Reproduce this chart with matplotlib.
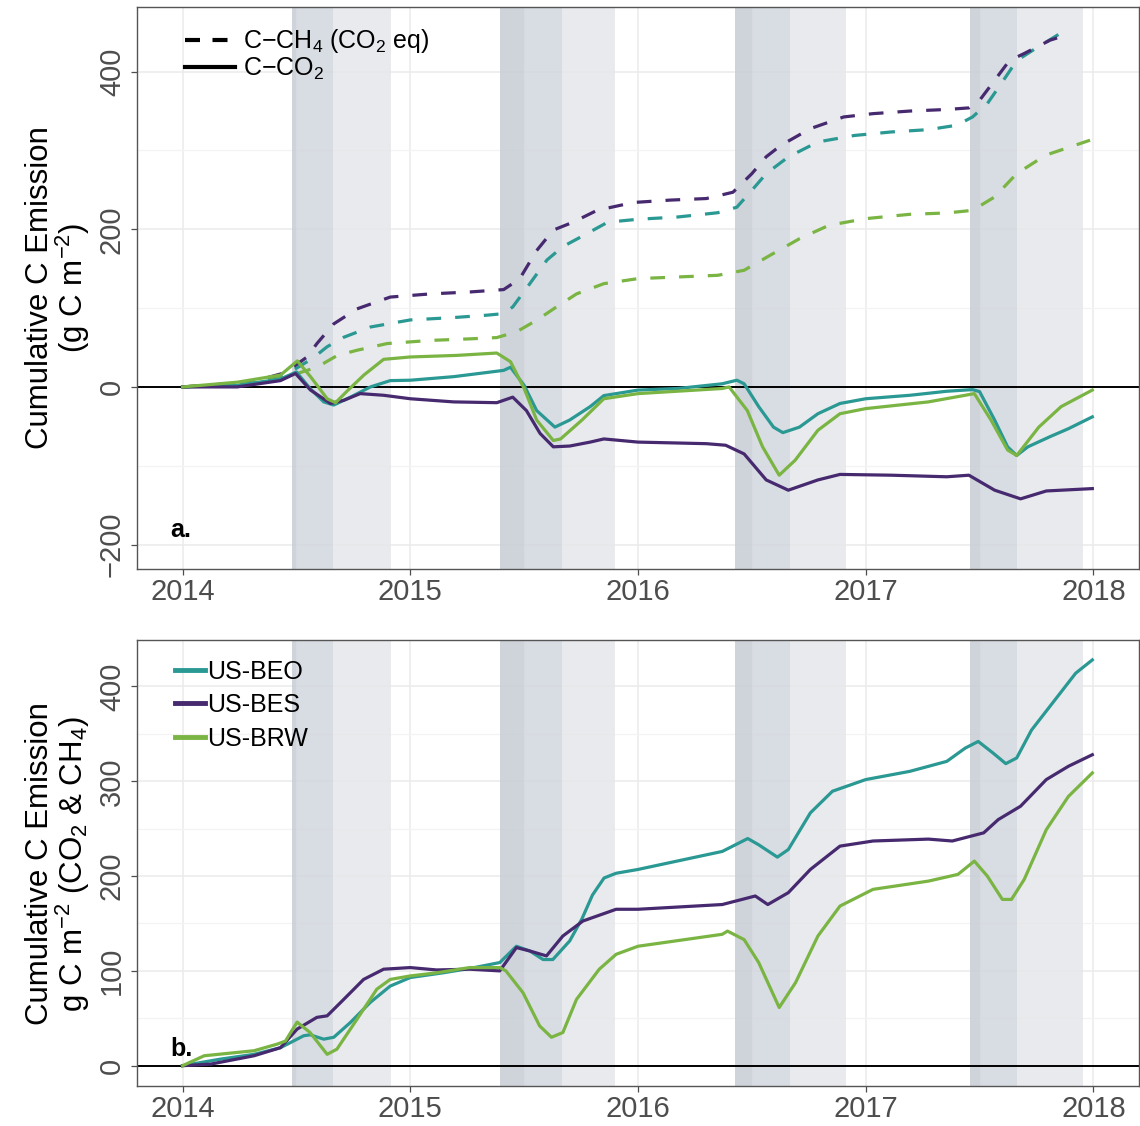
import numpy as np
import matplotlib
matplotlib.use("Agg")
import matplotlib.pyplot as plt
from matplotlib.lines import Line2D

plt.rcParams['font.family'] = ['Liberation Sans', 'DejaVu Sans']
plt.rcParams['mathtext.fontset'] = 'custom'
plt.rcParams['mathtext.rm'] = 'Liberation Sans'
plt.rcParams['mathtext.it'] = 'Liberation Sans:italic'
plt.rcParams['mathtext.bf'] = 'Liberation Sans:bold'

# ---- colours per site ----
sites = ['US-BEO', 'US-BES', 'US-BRW']
site_colors = ['#2A9893', '#46296F', '#7AB443']

# ---- shaded seasons (decimal years) ----
thaw_start = [2014.480, 2015.396, 2016.428, 2017.456]
mid_mark = [2014.500, 2015.500, 2016.500, 2017.500]
dark_end = [2014.659, 2015.666, 2016.668, 2017.666]
light_end = [2014.916, 2015.899, 2016.915, 2017.955]

# ---- panel a: cumulative C-CO2 (solid) ----
beo_co2_t = [2014.0, 2014.24, 2014.43, 2014.50, 2014.56, 2014.62, 2014.664, 2014.737, 2014.825,
             2014.912, 2015.0, 2015.19, 2015.41, 2015.44, 2015.50, 2015.555, 2015.635, 2015.70,
             2015.79, 2015.85, 2016.0, 2016.175, 2016.37, 2016.434, 2016.466, 2016.53, 2016.595,
             2016.636, 2016.709, 2016.79, 2016.887, 2017.0, 2017.194, 2017.356, 2017.469, 2017.50,
             2017.566, 2017.623, 2017.663, 2017.712, 2017.81, 2017.89, 2017.995]
beo_co2 = [0, 2, 10, 19, -2, -19, -23, -13, 0,
           8, 8.5, 13, 21, 25, 2, -30, -51, -42,
           -25, -11, -4, -2, 4, 8.5, 4, -25, -51,
           -58, -51, -34, -21, -15, -10.6, -5.5, -3.4, -6,
           -42, -76, -87, -76, -63, -53, -38]

bes_co2_t = [2014.0, 2014.24, 2014.43, 2014.496, 2014.562, 2014.65, 2014.708, 2014.78, 2014.883,
             2015.0, 2015.19, 2015.38, 2015.45, 2015.51, 2015.57, 2015.628, 2015.70, 2015.79,
             2015.85, 2016.0, 2016.30, 2016.385, 2016.466, 2016.563, 2016.66, 2016.79, 2016.887,
             2017.113, 2017.356, 2017.453, 2017.566, 2017.68, 2017.793, 2017.995]
bes_co2 = [0, 0, 8, 17, -4, -21, -17, -8.5, -10.6,
           -15, -19, -20, -13, -30, -59, -76, -75, -70,
           -66, -70, -72, -74, -85, -118, -131, -118, -111,
           -112, -114, -112, -131, -142, -132, -129]

brw_co2_t = [2014.0, 2014.24, 2014.43, 2014.504, 2014.562, 2014.635, 2014.672, 2014.72, 2014.796,
             2014.883, 2015.0, 2015.204, 2015.38, 2015.44, 2015.50, 2015.555, 2015.628, 2015.66,
             2015.754, 2015.85, 2016.0, 2016.37, 2016.40, 2016.48, 2016.547, 2016.62, 2016.69,
             2016.79, 2016.887, 2017.0, 2017.275, 2017.437, 2017.477, 2017.55, 2017.623, 2017.663,
             2017.76, 2017.858, 2017.995]
brw_co2 = [0, 6, 15, 33, 13, -15, -20, -6, 15,
           35, 38, 40, 43, 32, -2, -42, -68, -66,
           -42, -15, -8.5, -2, 0, -30, -76, -112, -93,
           -55, -34, -27.5, -19, -10.6, -8.5, -42, -80, -87,
           -51, -25, -4]

# ---- panel a: cumulative C-CH4 in CO2 eq (dashed) ----
beo_ch4_t = [2014.0, 2014.3, 2014.45, 2014.57, 2014.635, 2014.708, 2014.825, 2015.0, 2015.19,
             2015.336, 2015.41, 2015.45, 2015.525, 2015.60, 2015.67, 2015.76, 2015.867, 2016.0,
             2016.175, 2016.35, 2016.434, 2016.50, 2016.563, 2016.66, 2016.79, 2016.95, 2017.113,
             2017.275, 2017.40, 2017.469, 2017.534, 2017.60, 2017.663, 2017.744, 2017.84, 2017.858]
beo_ch4 = [0, 5, 15, 36, 51, 63, 76, 85, 88,
           91, 93, 101.5, 131, 161, 178, 192, 209, 212.7,
           215.6, 221, 228, 249.5, 270.6, 291.8, 310.8, 319, 323.5,
           326.4, 332, 342.5, 359.4, 387, 414, 429, 446, 449]

bes_ch4_t = [2014.0, 2014.3, 2014.45, 2014.547, 2014.59, 2014.664, 2014.766, 2014.912, 2015.088,
             2015.263, 2015.41, 2015.48, 2015.555, 2015.628, 2015.715, 2015.82, 2015.98, 2016.14,
             2016.30, 2016.417, 2016.50, 2016.563, 2016.628, 2016.757, 2016.903, 2017.032, 2017.194,
             2017.356, 2017.453, 2017.50, 2017.566, 2017.631, 2017.696, 2017.81, 2017.855]
bes_ch4 = [0, 6, 18, 38, 55, 80, 99, 114, 118,
           120.5, 123.5, 137, 173, 199, 209, 224, 234, 237,
           239, 247, 270.6, 292, 306.6, 327.7, 342.5, 346.7, 350,
           352, 354, 363.6, 389, 414, 423, 440, 444]

brw_ch4_t = [2014.0, 2014.3, 2014.45, 2014.59, 2014.68, 2014.766, 2014.898, 2015.088, 2015.263,
             2015.38, 2015.467, 2015.555, 2015.642, 2015.73, 2015.85, 2016.0, 2016.175, 2016.35,
             2016.466, 2016.58, 2016.709, 2016.838, 2017.0, 2017.194, 2017.356, 2017.469, 2017.566,
             2017.663, 2017.79, 2017.985]
brw_ch4 = [0, 5, 12, 25, 40, 46.5, 55, 59, 61,
           62.6, 70, 84.6, 101.5, 118, 131, 137.4, 139.5, 141.6,
           148, 167, 188, 205, 213.5, 219, 220.7, 224, 241,
           270.6, 294, 313]

# ---- panel b: cumulative C (CO2 & CH4), g C m-2 ----
beo_tot_t = [2014.0, 2014.168, 2014.314, 2014.43, 2014.532, 2014.56, 2014.62, 2014.664, 2014.737,
             2014.824, 2014.912, 2015.0, 2015.145, 2015.26, 2015.393, 2015.466, 2015.525, 2015.583,
             2015.626, 2015.70, 2015.754, 2015.80, 2015.851, 2015.904, 2016.0, 2016.175, 2016.37,
             2016.482, 2016.53, 2016.612, 2016.66, 2016.757, 2016.854, 2017.0, 2017.194, 2017.356,
             2017.437, 2017.494, 2017.558, 2017.615, 2017.663, 2017.728, 2017.825, 2017.922, 2017.995]
beo_tot = [0, 7, 12, 19, 31.6, 32.6, 28, 30, 45.6,
           66.7, 84, 93, 98, 102.5, 108.8, 126, 121, 112,
           112, 131.6, 155, 180, 198, 203, 207, 216, 226,
           239.6, 233, 220, 228, 266.7, 289.5, 301.8, 310.5, 321,
           335, 342, 330, 318.6, 324.6, 354, 384, 414, 428]

bes_tot_t = [2014.0, 2014.124, 2014.314, 2014.43, 2014.503, 2014.59, 2014.635, 2014.708, 2014.795,
             2014.883, 2015.0, 2015.116, 2015.26, 2015.393, 2015.466, 2015.525, 2015.598, 2015.67,
             2015.758, 2015.904, 2016.0, 2016.37, 2016.515, 2016.57, 2016.66, 2016.757, 2016.887,
             2017.032, 2017.275, 2017.38, 2017.518, 2017.582, 2017.68, 2017.793, 2017.89, 2017.995]
bes_tot = [0, 1.7, 10.5, 19, 38.6, 51, 52.6, 70, 91,
           101.8, 103.5, 101, 101.8, 100, 124.6, 121, 115.8, 136.8,
           152.6, 165, 165, 170, 179, 170, 182.5, 207, 231.6,
           237, 239, 237, 245.6, 259.6, 273.7, 301.8, 315.8, 328]

brw_tot_t = [2014.0, 2014.095, 2014.314, 2014.416, 2014.452, 2014.503, 2014.56, 2014.635, 2014.678,
             2014.766, 2014.853, 2014.912, 2015.0, 2015.116, 2015.26, 2015.393, 2015.42, 2015.495,
             2015.568, 2015.62, 2015.67, 2015.73, 2015.83, 2015.904, 2016.0, 2016.37, 2016.393,
             2016.466, 2016.53, 2016.62, 2016.692, 2016.79, 2016.887, 2017.032, 2017.275, 2017.405,
             2017.477, 2017.534, 2017.60, 2017.64, 2017.696, 2017.793, 2017.89, 2017.995]
brw_tot = [0, 10.5, 15.8, 22.8, 26, 46, 35, 12, 17.5,
           49, 80.7, 91, 94.7, 98, 103.5, 103.5, 100, 77,
           42, 30, 35, 70, 101.8, 117.5, 126, 138.6, 142,
           133, 108.8, 61.4, 87.7, 136.8, 168.4, 186, 194.7, 201.8,
           215.8, 200, 175.4, 175.4, 196.5, 249, 284, 308.8]

x_ticks = [2014, 2015, 2016, 2017, 2018]
top_yticks = [-200, 0, 200, 400]
bot_yticks = [0, 100, 200, 300, 400]

W, H = 1140, 1126
fig = plt.figure(figsize=(W / 100, H / 100), dpi=100)
ax_a = fig.add_axes([137 / W, 1 - 569 / H, 1002 / W, 562 / H])
ax_b = fig.add_axes([137 / W, 1 - 1086 / H, 1002 / W, 446 / H])

grid_col = '#EBEBEB'
tick_col = '#4D4D4D'


def style_axis(ax, yticks, yminor, ylim):
    ax.set_xlim(2013.8, 2018.2)
    ax.set_ylim(*ylim)
    ax.set_xticks(x_ticks)
    ax.set_xticks([2014.5, 2015.5, 2016.5, 2017.5], minor=True)
    ax.set_yticks(yticks)
    ax.set_yticks(yminor, minor=True)
    ax.grid(True, which='major', color=grid_col, lw=1.1, zorder=0)
    ax.grid(True, which='minor', color='#F3F3F3', lw=0.9, zorder=0)
    ax.set_axisbelow(True)
    ax.tick_params(axis='both', which='major', length=4, width=0.9, color=tick_col,
                   labelcolor=tick_col, labelsize=21, pad=4)
    ax.tick_params(axis='both', which='minor', length=0)
    ax.tick_params(axis='x', pad=2.5)
    ax.tick_params(axis='y', labelrotation=90)
    for lab in ax.get_yticklabels():
        lab.set_va('center')
    for sp in ax.spines.values():
        sp.set_color('#555555')
        sp.set_linewidth(1.0)
    for s0, s1, s2, s3 in zip(thaw_start, mid_mark, dark_end, light_end):
        ax.axvspan(s0, s1, color='#C7CDD5', alpha=0.85, lw=0, zorder=1)
        ax.axvspan(s1, s2, color='#D2D7DE', alpha=0.85, lw=0, zorder=1)
        ax.axvspan(s2, s3, color='#E6E7EA', alpha=0.85, lw=0, zorder=1)
    ax.axhline(0, color='black', lw=1.4, zorder=2)


style_axis(ax_a, top_yticks, [-100, 100, 300], (-231, 482))
style_axis(ax_b, bot_yticks, [50, 150, 250, 350], (-21.4, 449))

lw = 2.3
dash = (0, (4.6, 4.4))
co2_series = [(beo_co2_t, beo_co2), (bes_co2_t, bes_co2), (brw_co2_t, brw_co2)]
ch4_series = [(beo_ch4_t, beo_ch4), (bes_ch4_t, bes_ch4), (brw_ch4_t, brw_ch4)]
tot_series = [(beo_tot_t, beo_tot), (bes_tot_t, bes_tot), (brw_tot_t, brw_tot)]

for (t, v), c in zip(ch4_series, site_colors):
    ax_a.plot(t, v, color=c, lw=lw, linestyle=dash, zorder=3)
for (t, v), c in zip(co2_series, site_colors):
    ax_a.plot(t, v, color=c, lw=lw, zorder=4)
for (t, v), c, name in zip(tot_series, site_colors, sites):
    ax_b.plot(t, v, color=c, lw=lw, zorder=4, label=name)

# legends
type_handles = [Line2D([0], [0], color='black', lw=3, linestyle=(0, (3.6, 3.0))),
                Line2D([0], [0], color='black', lw=3)]
ax_a.legend(type_handles, ['C\u2212CH$_4$ (CO$_2$ eq)', 'C\u2212CO$_2$'],
            loc='upper left', bbox_to_anchor=(0.03, 0.995), frameon=False, fontsize=18,
            handlelength=2.0, handletextpad=0.35, labelspacing=0.0, borderaxespad=0.3)
leg_b = ax_b.legend(loc='upper left', bbox_to_anchor=(0.02, 0.995), frameon=False, fontsize=18,
                    handlelength=1.2, handletextpad=0.12, labelspacing=0.38, borderaxespad=0.3)
for h in leg_b.get_lines():
    h.set_linewidth(3.5)

# panel labels
ax_a.text(2013.948, -182, 'a.', fontsize=18, fontweight='bold', ha='left', va='center')
ax_b.text(2013.948, 17.6, 'b.', fontsize=18, fontweight='bold', ha='left', va='center')

# y labels
fig.text(40 / W, 1 - 288 / H, 'Cumulative C Emission', rotation=90, fontsize=22.5,
         ha='center', va='center')
fig.text(73 / W, 1 - 288 / H, '(g C m$^{-2}$)', rotation=90, fontsize=22.5,
         ha='center', va='center')
fig.text(40 / W, 1 - 864 / H, 'Cumulative C Emission', rotation=90, fontsize=22.5,
         ha='center', va='center')
fig.text(73 / W, 1 - 864 / H, 'g C m$^{-2}$ (CO$_2$ & CH$_4$)', rotation=90, fontsize=22.5,
         ha='center', va='center')

fig.savefig('out.png', dpi=100)
